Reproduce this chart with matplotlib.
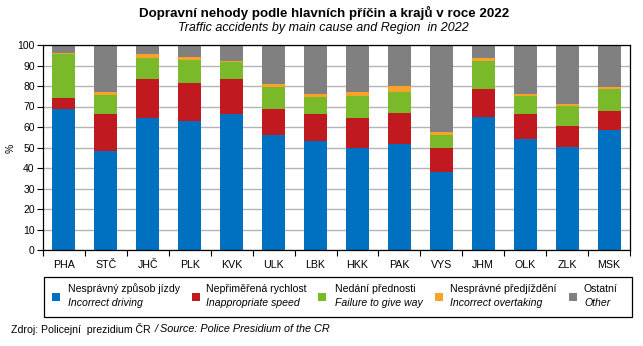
import matplotlib
matplotlib.use("Agg")
import matplotlib.pyplot as plt
from matplotlib.patches import Rectangle
import numpy as np

plt.rcParams['font.family'] = ['Liberation Sans', 'DejaVu Sans']

regions = ['PHA', 'STČ', 'JHČ', 'PLK', 'KVK', 'ULK', 'LBK',
           'HKK', 'PAK', 'VYS', 'JHM', 'OLK', 'ZLK', 'MSK']

# share of accidents by main cause (%)
incorrect_driving = [68.8, 48.3, 64.6, 62.9, 66.5, 56.1, 53.2, 49.9, 51.9, 38.0, 64.9, 54.1, 50.2, 58.7]
inappropriate_speed = [5.3, 18.0, 18.8, 18.6, 16.9, 12.7, 13.1, 14.5, 14.9, 11.8, 13.6, 12.2, 10.3, 9.1]
failure_to_give_way = [21.7, 9.3, 10.4, 11.0, 8.5, 10.7, 8.3, 10.7, 10.3, 6.1, 13.7, 8.8, 9.7, 10.7]
incorrect_overtaking = [0.2, 1.5, 2.0, 1.6, 0.5, 1.6, 1.5, 2.0, 2.9, 1.7, 1.5, 1.0, 1.0, 1.0]
other = [4.0, 22.9, 4.2, 5.9, 7.6, 18.9, 23.9, 22.9, 20.0, 42.4, 6.3, 23.9, 28.8, 20.5]

series = [incorrect_driving, inappropriate_speed, failure_to_give_way, incorrect_overtaking, other]
colors = ['#0070c0', '#c0191f', '#7ab929', '#f8a229', '#808080']
labels_cz = ['Nesprávný způsob jízdy', 'Nepřiměřená rychlost', 'Nedání přednosti',
             'Nesprávné předjíždění', 'Ostatní']
labels_en = ['Incorrect driving', 'Inappropriate speed', 'Failure to give way',
             'Incorrect overtaking', 'Other']

W, H = 643, 346
fig = plt.figure(figsize=(W / 100, H / 100), dpi=100)


def px(x, y):
    return x / W, 1 - y / H


ax = fig.add_axes([43 / W, 1 - 250 / H, (630 - 43) / W, (250 - 45) / H])

x = np.arange(len(regions))
bottom = np.zeros(len(regions))
for vals, c in zip(series, colors):
    ax.bar(x, vals, width=0.55, bottom=bottom, color=c, zorder=2)
    bottom += np.array(vals)

ax.set_xlim(-0.5, len(regions) - 0.5)
ax.set_ylim(0, 100)
ax.set_yticks(range(0, 101, 10))
ax.yaxis.grid(True, color='#b4b4b4', linewidth=1, zorder=0)
ax.set_xticks(x)
ax.set_xticklabels(regions, fontsize=7.7)
ax.set_xticks(np.arange(-0.5, len(regions), 1), minor=True)
ax.tick_params(axis='x', which='major', length=0, pad=7)
ax.tick_params(axis='x', which='minor', length=4, width=0.8, direction='out')
ax.tick_params(axis='y', length=4, width=0.8, labelsize=7.5, pad=2)
for s in ax.spines.values():
    s.set_linewidth(0.9)
    s.set_color('black')

fig.text(*px(11, 148), '%', rotation=90, fontsize=7.5, ha='center', va='center')

fig.text(*px(324, 13), 'Dopravní nehody podle hlavních příčin a krajů v roce 2022',
         fontsize=9.6, fontweight='bold', ha='center', va='center')
fig.text(*px(323, 28), 'Traffic accidents by main cause and Region  in 2022',
         fontsize=9, style='italic', ha='center', va='center')

# legend drawn by hand: two-line labels with an italic English line
x0, y0 = px(43.5, 316.5)
x1, y1 = px(631.5, 276.5)
fig.add_artist(Rectangle((x0, y0), x1 - x0, y1 - y0, transform=fig.transFigure,
                         fill=False, edgecolor='black', linewidth=0.9))
square_x = [52, 191.5, 317.5, 435, 569]
text_x = [68, 206, 335, 450, 584]
for sx, tx, c, cz, en in zip(square_x, text_x, colors, labels_cz, labels_en):
    rx, ry = px(sx, 300.5)
    fig.add_artist(Rectangle((rx, ry), 8 / W, 8 / H, transform=fig.transFigure,
                             facecolor=c, edgecolor='none'))
    fig.text(*px(tx, 289), cz, fontsize=7.6, ha='left', va='center')
    fig.text(*px(tx, 302.5), en, fontsize=7.6, style='italic', ha='left', va='center')

fig.text(*px(11, 329), 'Zdroj: Policejní  prezidium ČR', fontsize=7.6, ha='left', va='center')
fig.text(*px(155, 329), '/ Source: Police Presidium of the CR', fontsize=7.8,
         style='italic', ha='left', va='center')

fig.savefig('out.png', dpi=100)
